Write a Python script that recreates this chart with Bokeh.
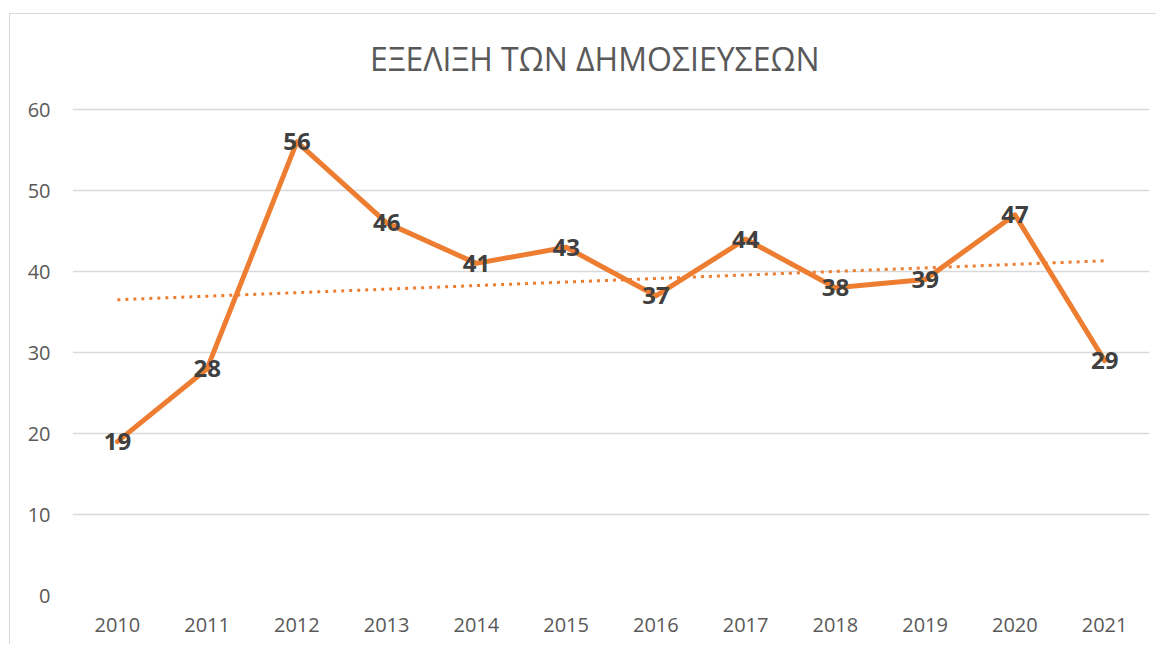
import numpy as np
from bokeh.plotting import figure
from bokeh.models import ColumnDataSource, FactorRange, Range1d, FixedTicker, Label
from bokeh.core.properties import value
from bokeh.embed import file_html
from bokeh.resources import INLINE

# ---- data ----
title_text = "ΕΞΕΛΙΞΗ ΤΩΝ ΔΗΜΟΣΙΕΥΣΕΩΝ"
years = ["2010", "2011", "2012", "2013", "2014", "2015",
         "2016", "2017", "2018", "2019", "2020", "2021"]
counts = [19, 28, 56, 46, 41, 43, 37, 44, 38, 39, 47, 29]
y_ticks = [0, 10, 20, 30, 40, 50, 60]

# linear trendline (least squares, as in the spreadsheet)
idx = np.arange(1, len(counts) + 1)
slope, intercept = np.polyfit(idx, counts, 1)
trend = list(slope * idx + intercept)

ORANGE = "#ED7D31"
GRID = "#D9D9D9"
AXIS_TXT = "#595959"
LABEL_TXT = "#404040"
FONT = "Open Sans"

# layout: plot frame runs from the top of the figure; value axis 0..60 spans
# the lower 486 px of the 581 px frame, the title sits in the space above it
FRAME_H = 581
AXIS_H = 486
y_top = y_ticks[-1] * FRAME_H / AXIS_H

src = ColumnDataSource(dict(year=years, count=counts,
                            label=[str(c) for c in counts], trend=trend))

p = figure(
    x_range=FactorRange(*years), y_range=Range1d(0, y_top),
    width=1147, height=631, title=None,
    output_backend="svg", toolbar_location=None,
    min_border_left=62, min_border_right=8,
    min_border_top=0, min_border_bottom=50,
)
p.margin = (13, 0, 0, 9)
p.styles = {"border-top": "1px solid #D9D9D9", "border-left": "1px solid #D9D9D9"}
p.outline_line_color = None
p.background_fill_color = "white"
p.border_fill_color = "white"

# chart title
title = Label(x=5.82, y=y_ticks[-1] * (FRAME_H - 44) / AXIS_H,
              x_units="data", y_units="data", text=title_text,
              text_font=FONT, text_font_size="32px", text_font_style="normal",
              text_color=AXIS_TXT, text_align="center", text_baseline="middle")
p.add_layout(title)

# grid
p.xgrid.visible = False
p.ygrid.grid_line_color = GRID
p.ygrid.grid_line_width = 1.3

# axes
p.yaxis.ticker = FixedTicker(ticks=y_ticks)
for ax in (p.xaxis, p.yaxis):
    ax.axis_line_color = None
    ax.major_tick_line_color = None
    ax.minor_tick_line_color = None
    ax.major_tick_in = 0
    ax.major_tick_out = 0
    ax.major_label_text_font = FONT
    ax.major_label_text_font_size = "20px"
    ax.major_label_text_color = AXIS_TXT
p.yaxis.major_label_standoff = 22
p.xaxis.major_label_standoff = 22

# trendline
p.line(x="year", y="trend", source=src, line_color=ORANGE, line_width=3,
       line_dash="3 5")

# main series
p.line(x="year", y="count", source=src, line_color=ORANGE, line_width=5,
       line_join="round", line_cap="round")

# data labels
p.text(x="year", y="count", text="label", source=src,
       text_font=value(FONT), text_font_style="bold", text_font_size="24px",
       text_color=LABEL_TXT, text_align="center", text_baseline="middle")

open("out.html", "w").write(file_html(p, INLINE))
